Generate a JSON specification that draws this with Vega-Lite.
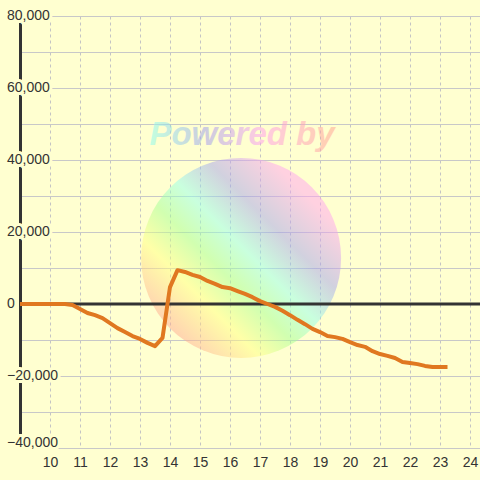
{
  "$schema": "https://vega.github.io/schema/vega-lite/v6.json",
  "width": 460,
  "height": 432,
  "autosize": {"type": "none"},
  "padding": {"left": 20, "top": 16, "right": 0, "bottom": 32},
  "background": "#ffffd0",
  "datasets": {
    "series": [
      {"h": 9, "v": 0}, {"h": 9.25, "v": 0}, {"h": 9.5, "v": 0}, {"h": 9.75, "v": 0},
      {"h": 10, "v": 0}, {"h": 10.25, "v": 0}, {"h": 10.5, "v": 0}, {"h": 10.75, "v": -300},
      {"h": 11, "v": -1400}, {"h": 11.25, "v": -2500}, {"h": 11.5, "v": -3100}, {"h": 11.75, "v": -3900},
      {"h": 12, "v": -5300}, {"h": 12.25, "v": -6700}, {"h": 12.5, "v": -7800}, {"h": 12.75, "v": -8900},
      {"h": 13, "v": -9700}, {"h": 13.25, "v": -10800}, {"h": 13.5, "v": -11700}, {"h": 13.75, "v": -9400},
      {"h": 14, "v": 4700}, {"h": 14.25, "v": 9400}, {"h": 14.5, "v": 8900}, {"h": 14.75, "v": 8100},
      {"h": 15, "v": 7500}, {"h": 15.25, "v": 6400}, {"h": 15.5, "v": 5600}, {"h": 15.75, "v": 4700},
      {"h": 16, "v": 4400}, {"h": 16.25, "v": 3600}, {"h": 16.5, "v": 2800}, {"h": 16.75, "v": 1900},
      {"h": 17, "v": 800}, {"h": 17.25, "v": 0}, {"h": 17.5, "v": -800}, {"h": 17.75, "v": -1900},
      {"h": 18, "v": -3100}, {"h": 18.25, "v": -4400}, {"h": 18.5, "v": -5600}, {"h": 18.75, "v": -6900},
      {"h": 19, "v": -7800}, {"h": 19.25, "v": -8900}, {"h": 19.5, "v": -9200}, {"h": 19.75, "v": -9700},
      {"h": 20, "v": -10600}, {"h": 20.25, "v": -11400}, {"h": 20.5, "v": -11900}, {"h": 20.75, "v": -13100},
      {"h": 21, "v": -13900}, {"h": 21.25, "v": -14400}, {"h": 21.5, "v": -15000}, {"h": 21.75, "v": -16100},
      {"h": 22, "v": -16400}, {"h": 22.25, "v": -16700}, {"h": 22.5, "v": -17200}, {"h": 22.75, "v": -17500},
      {"h": 23, "v": -17500}, {"h": 23.25, "v": -17500}
    ],
    "ticks": [
      {"h": 9, "v": 80000}, {"h": 9, "v": 60000}, {"h": 9, "v": 40000}, {"h": 9, "v": 20000},
      {"h": 9, "v": 0}, {"h": 9, "v": -20000}, {"h": 9, "v": -40000}
    ],
    "mark": [
      {"h": 16.37, "v": 12800, "label": "Powered by", "hl": 16.4, "vl": 47000}
    ]
  },
  "encoding": {
    "x": {
      "field": "h",
      "type": "quantitative",
      "scale": {"domain": [9, 24.3333], "nice": false, "zero": false},
      "axis": {
        "title": null,
        "values": [10, 11, 12, 13, 14, 15, 16, 17, 18, 19, 20, 21, 22, 23, 24],
        "grid": true,
        "gridColor": "#c4c4c4",
        "gridDash": [3, 3],
        "domain": false,
        "ticks": false,
        "labelOverlap": false,
        "labelFont": "Liberation Sans",
        "labelFontSize": 14,
        "labelColor": "#333333",
        "labelPadding": 7
      }
    },
    "y": {
      "field": "v",
      "type": "quantitative",
      "scale": {"domain": [-40000, 80000], "nice": false},
      "axis": {
        "title": null,
        "values": [-40000, -30000, -20000, -10000, 0, 10000, 20000, 30000, 40000, 50000, 60000, 70000, 80000],
        "grid": true,
        "gridColor": "#c8c8c8",
        "labels": false,
        "ticks": false,
        "domain": true,
        "domainColor": "#333333",
        "domainWidth": 3
      }
    }
  },
  "layer": [
    {
      "data": {"name": "mark"},
      "mark": {
        "type": "point",
        "shape": "circle",
        "filled": true,
        "size": 40000,
        "strokeWidth": 0,
        "opacity": 0.5,
        "fill": {
          "gradient": "linear",
          "x1": 0, "y1": 1, "x2": 1, "y2": 0,
          "stops": [
            {"offset": 0.15, "color": "#ffaa91"},
            {"offset": 0.3, "color": "#ffff80"},
            {"offset": 0.42, "color": "#a3ff91"},
            {"offset": 0.53, "color": "#93ffec"},
            {"offset": 0.66, "color": "#a3a3ed"},
            {"offset": 0.82, "color": "#ffa3f0"}
          ]
        }
      }
    },
    {
      "data": {"name": "mark"},
      "mark": {
        "type": "text",
        "font": "Liberation Sans",
        "fontSize": 33,
        "fontStyle": "italic",
        "fontWeight": "bold",
        "opacity": 0.55,
        "fill": {
          "gradient": "linear",
          "x1": 0, "y1": 0, "x2": 1, "y2": 0,
          "stops": [
            {"offset": 0, "color": "#93ffec"},
            {"offset": 0.3, "color": "#a3a3ed"},
            {"offset": 0.6, "color": "#ffa3f0"},
            {"offset": 1, "color": "#ffaa91"}
          ]
        }
      },
      "encoding": {
        "x": {"field": "hl", "type": "quantitative"},
        "y": {"field": "vl", "type": "quantitative"},
        "text": {"field": "label"}
      }
    },
    {
      "data": {"name": "ticks"},
      "transform": [{"filter": "datum.v == 0"}],
      "mark": {"type": "rule", "color": "#333333", "strokeWidth": 3},
      "encoding": {
        "x": null
      }
    },
    {
      "data": {"name": "ticks"},
      "transform": [{"filter": "datum.v > -40000"}],
      "mark": {
        "type": "text",
        "font": "Liberation Sans",
        "fontSize": 14,
        "align": "left",
        "baseline": "middle",
        "dx": -13,
        "fill": "#ffffd0",
        "stroke": "#ffffd0",
        "strokeWidth": 6,
        "strokeJoin": "round"
      },
      "encoding": {
        "text": {"field": "v", "type": "quantitative", "format": ","}
      }
    },
    {
      "data": {"name": "ticks"},
      "transform": [{"filter": "datum.v > -40000"}],
      "mark": {
        "type": "text",
        "font": "Liberation Sans",
        "fontSize": 14,
        "align": "left",
        "baseline": "middle",
        "dx": -13,
        "fill": "#333333"
      },
      "encoding": {
        "text": {"field": "v", "type": "quantitative", "format": ","}
      }
    },
    {
      "data": {"name": "ticks"},
      "transform": [{"filter": "datum.v == -40000"}],
      "mark": {
        "type": "text",
        "font": "Liberation Sans",
        "fontSize": 14,
        "align": "left",
        "baseline": "alphabetic",
        "dx": -13,
        "dy": -1,
        "fill": "#ffffd0",
        "stroke": "#ffffd0",
        "strokeWidth": 6,
        "strokeJoin": "round"
      },
      "encoding": {
        "text": {"field": "v", "type": "quantitative", "format": ","}
      }
    },
    {
      "data": {"name": "ticks"},
      "transform": [{"filter": "datum.v == -40000"}],
      "mark": {
        "type": "text",
        "font": "Liberation Sans",
        "fontSize": 14,
        "align": "left",
        "baseline": "alphabetic",
        "dx": -13,
        "dy": -1,
        "fill": "#333333"
      },
      "encoding": {
        "text": {"field": "v", "type": "quantitative", "format": ","}
      }
    },
    {
      "data": {"name": "series"},
      "mark": {
        "type": "line",
        "color": "#e07820",
        "strokeWidth": 4,
        "strokeJoin": "round"
      }
    }
  ],
  "config": {
    "view": {"stroke": null},
    "font": "Liberation Sans"
  }
}
